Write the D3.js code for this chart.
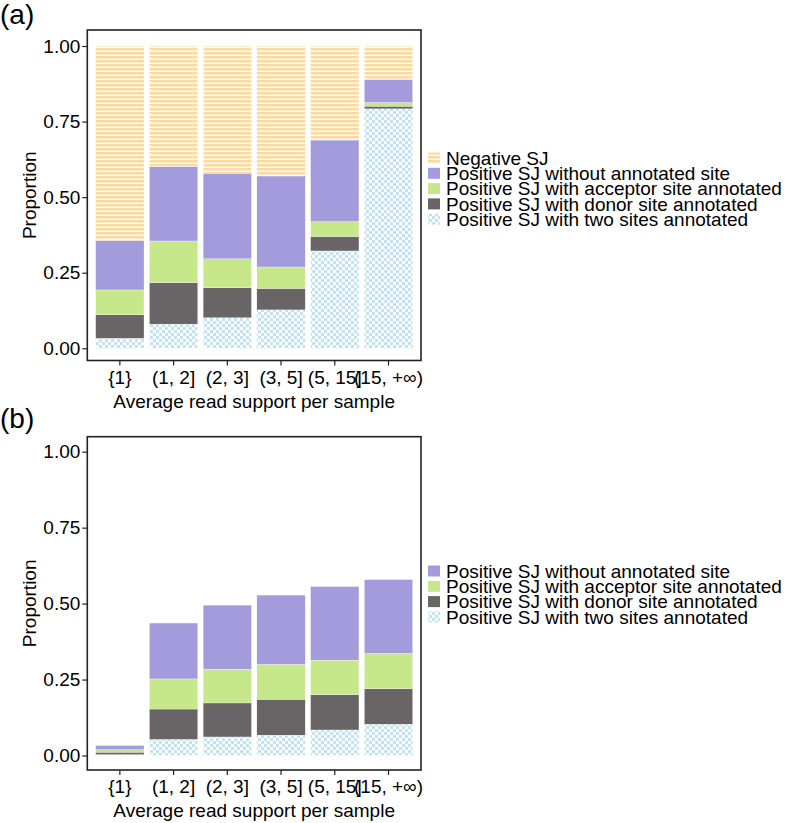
<!DOCTYPE html>
<html><head><meta charset="utf-8">
<script src="https://cdn.jsdelivr.net/npm/d3@7"></script>
<style>body{margin:0;background:#fff}svg{display:block}text{font-family:"Liberation Sans",Arial,Helvetica,sans-serif;fill:#000}</style>
</head><body>
<script>
const categories = ["{1}","(1, 2]","(2, 3]","(3, 5]","(5, 15]","(15, +\u221e)"];
const seriesNames = ["Positive SJ with two sites annotated","Positive SJ with donor site annotated","Positive SJ with acceptor site annotated","Positive SJ without annotated site","Negative SJ"];
// Panel (a)
const aTwo      = [0.033,0.080,0.101,0.127,0.322,0.792];
const aDonor    = [0.078,0.137,0.099,0.071,0.048,0.009];
const aAcceptor = [0.082,0.138,0.096,0.071,0.049,0.012];
const aWithout  = [0.164,0.246,0.283,0.301,0.270,0.077];
const aNegative = [0.643,0.399,0.421,0.430,0.311,0.110];
// Panel (b)
const bTwo      = [0.003,0.053,0.061,0.067,0.084,0.103];
const bDonor    = [0.008,0.100,0.112,0.118,0.116,0.117];
const bAcceptor = [0.008,0.099,0.111,0.115,0.114,0.116];
const bWithout  = [0.014,0.184,0.211,0.228,0.242,0.243];
const yTicks = [0,0.25,0.5,0.75,1];
const yTickLabels = ["0.00","0.25","0.50","0.75","1.00"];

const W=785,H=823;
const svg=d3.select("body").append("svg").attr("width",W).attr("height",H);
const defs=svg.append("defs");
const stripe=defs.append("pattern").attr("id","stripe").attr("patternUnits","userSpaceOnUse").attr("width",8).attr("height",4);
stripe.append("rect").attr("width",8).attr("height",4).attr("fill","#fff");
stripe.append("rect").attr("width",8).attr("height",2.6).attr("fill","#fcd9a2");
const check=defs.append("pattern").attr("id","check").attr("patternUnits","userSpaceOnUse").attr("width",6).attr("height",6);
check.append("rect").attr("width",6).attr("height",6).attr("fill","#fff");
check.append("rect").attr("width",3).attr("height",3).attr("fill","#c2e3f3");
check.append("rect").attr("x",3).attr("y",3).attr("width",3).attr("height",3).attr("fill","#c2e3f3");

const fills={
 "Negative SJ":"url(#stripe)",
 "Positive SJ without annotated site":"#a39bdb",
 "Positive SJ with acceptor site annotated":"#c7e88a",
 "Positive SJ with donor site annotated":"#696466",
 "Positive SJ with two sites annotated":"url(#check)"
};

const FS=19;
function panel(cfg){
  const {label,labelY,frame,y0,y1,series,legendRows,legendY,legendStep}=cfg;
  const g=svg.append("g");
  const x=d3.scaleBand().domain(categories).range([92.98,415.37]).paddingInner(0.1).paddingOuter(0.05);
  const y=d3.scaleLinear().domain([0,1]).range([y0,y1]);
  const rows=categories.map((c,i)=>{const r={cat:c};series.forEach(s=>r[s.name]=s.values[i]);return r;});
  const keys=series.map(s=>s.name);
  const stacked=d3.stack().keys(keys)(rows);
  g.selectAll("g.layer").data(stacked).join("g").attr("class","layer")
    .attr("fill",d=>fills[d.key])
    .selectAll("rect").data(d=>d).join("rect")
    .attr("x",d=>x(d.data.cat)).attr("width",x.bandwidth())
    .attr("y",d=>y(d[1])).attr("height",d=>Math.max(0,y(d[0])-y(d[1])))
    .attr("stroke","#fff").attr("stroke-width",0.3);
  // frame
  g.append("rect").attr("x",frame.x0).attr("y",frame.y0).attr("width",frame.x1-frame.x0).attr("height",frame.y1-frame.y0)
    .attr("fill","none").attr("stroke","#222").attr("stroke-width",1.6);
  // y axis
  const ya=g.append("g").attr("transform",`translate(${frame.x0},0)`)
    .call(d3.axisLeft(y).tickValues(yTicks).tickFormat((d,i)=>yTickLabels[i]).tickSize(5).tickPadding(2));
  ya.select(".domain").remove();
  ya.selectAll("line").attr("stroke","#222").attr("stroke-width",1.2);
  ya.selectAll("text").attr("font-size",FS).attr("fill","#000").attr("font-family",null);
  // x axis
  const xa=g.append("g").attr("transform",`translate(0,${frame.y1})`)
    .call(d3.axisBottom(x).tickSize(5).tickPadding(5));
  xa.select(".domain").remove();
  xa.selectAll("line").attr("stroke","#222").attr("stroke-width",1.2);
  xa.selectAll("text").attr("font-size",FS).attr("fill","#000").attr("font-family",null);
  // titles
  g.append("text").attr("x",(frame.x0+frame.x1)/2).attr("y",frame.y1+47).attr("text-anchor","middle").attr("font-size",FS).text("Average read support per sample");
  g.append("text").attr("transform",`translate(36,${(frame.y0+frame.y1)/2}) rotate(-90)`).attr("text-anchor","middle").attr("font-size",FS).text("Proportion");
  g.append("text").attr("x",0).attr("y",labelY).attr("font-size",28).text(label);
  // legend
  const lg=g.append("g");
  legendRows.forEach((name,i)=>{
    const cy=legendY+i*legendStep;
    lg.append("rect").attr("x",428).attr("y",cy-5.5).attr("width",12).attr("height",11).attr("fill",fills[name]);
    lg.append("text").attr("x",446).attr("y",cy).attr("dy","0.35em").attr("font-size",FS).text(name);
  });
}

panel({label:"(a)",labelY:24,frame:{x0:87.3,x1:421,y0:30,y1:360.5},y0:348.3,y1:46,
  series:[{name:seriesNames[0],values:aTwo},{name:seriesNames[1],values:aDonor},{name:seriesNames[2],values:aAcceptor},{name:seriesNames[3],values:aWithout},{name:seriesNames[4],values:aNegative}],
  legendRows:["Negative SJ","Positive SJ without annotated site","Positive SJ with acceptor site annotated","Positive SJ with donor site annotated","Positive SJ with two sites annotated"],
  legendY:158,legendStep:15.3});
panel({label:"(b)",labelY:428,frame:{x0:87.3,x1:421,y0:436.7,y1:770},y0:755.5,y1:451.7,
  series:[{name:seriesNames[0],values:bTwo},{name:seriesNames[1],values:bDonor},{name:seriesNames[2],values:bAcceptor},{name:seriesNames[3],values:bWithout}],
  legendRows:["Positive SJ without annotated site","Positive SJ with acceptor site annotated","Positive SJ with donor site annotated","Positive SJ with two sites annotated"],
  legendY:571,legendStep:15.3});
</script>
</body></html>
